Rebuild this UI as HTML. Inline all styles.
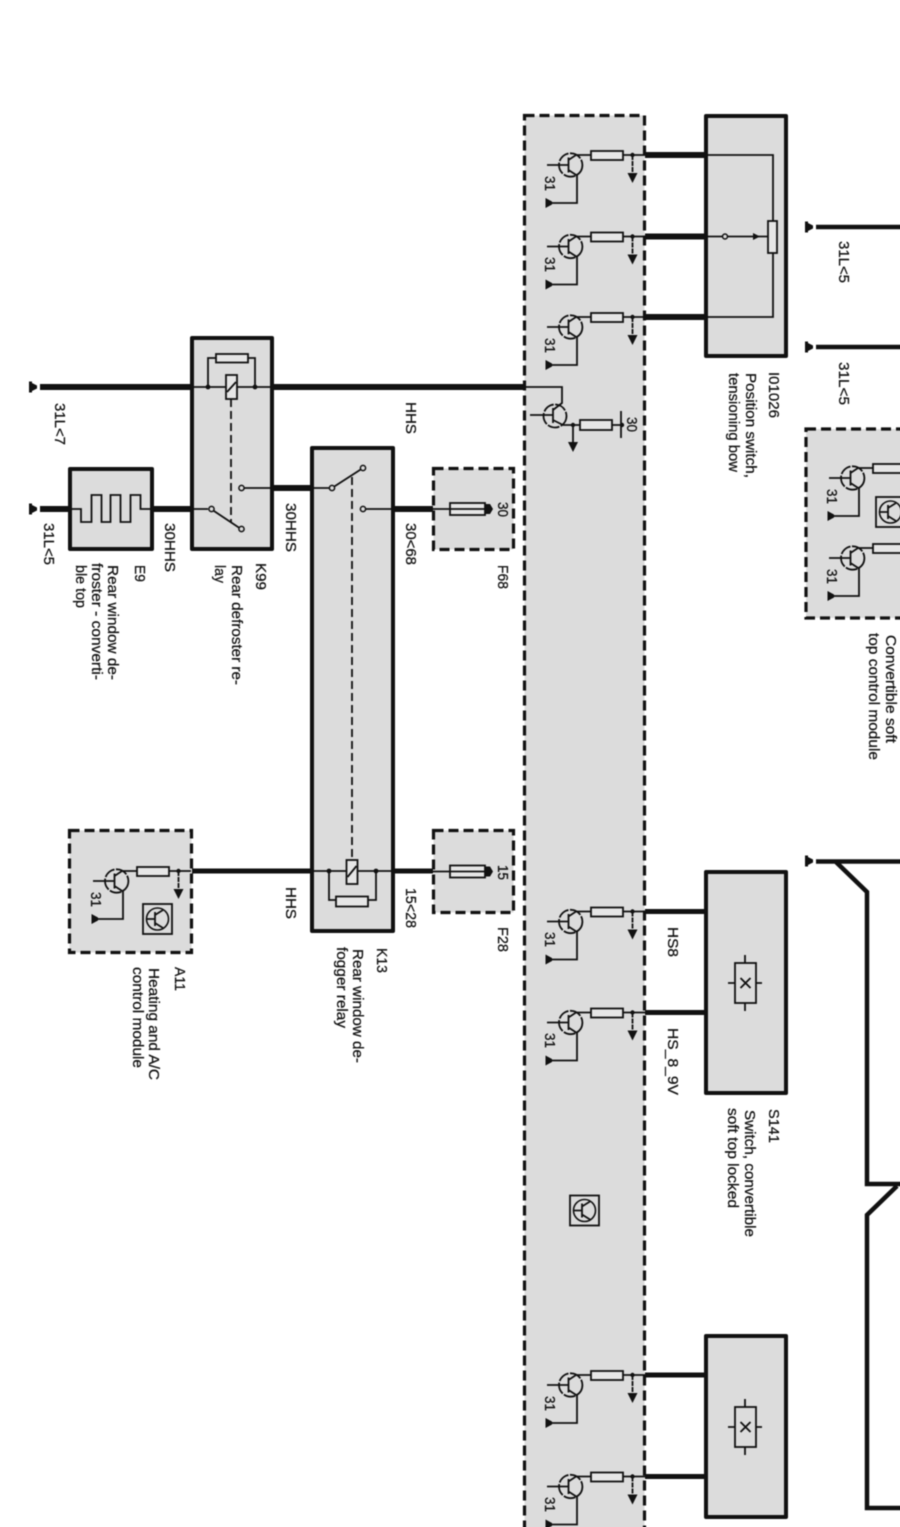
<!DOCTYPE html>
<html lang="en">
<head>
<meta charset="utf-8">
<title>Wiring diagram</title>
<style>
html,body{margin:0;padding:0;background:#fff;width:900px;height:1527px;overflow:hidden}
svg{display:block;position:absolute;left:0;top:0}
#all{filter:blur(.4px)}
text{font-family:"Liberation Sans",sans-serif;font-size:14.5px;fill:#111;stroke:#111;stroke-width:.25}
.box{fill:#dcdcdc;stroke:#111;stroke-width:4;stroke-linejoin:round}
.dash{fill:#dcdcdc;stroke:#111;stroke-width:3.2;stroke-dasharray:10 5}
.w{stroke:#111;fill:none}
.t{stroke:#111;fill:none;stroke-width:1.8}
.r{fill:#e6e6e6;stroke:#111;stroke-width:1.8}
</style>
</head>
<body>
<svg xmlns="http://www.w3.org/2000/svg" width="900" height="1527" viewBox="0 0 900 1527">
<defs>
  <g id="gnd"><rect x="0" y="-5.500" width="3" height="11" fill="#111"/><polygon points="0,-5.500 8,-1.500 8,1.500 0,5.500" fill="#111"/></g>
  <g id="tr">
    <circle cx="570.700" cy="165" r="11.700" fill="none" stroke="#111" stroke-width="1.800" stroke-dasharray="12 1.500"/>
    <path class="t" d="M547 165H568.500M568.500 157.500V172.500M568.500 160L576 155H591M623 155H645M568.500 170L577 175.500V203H551"/>
    <rect class="r" x="591" y="151" width="32" height="9"/>
    <circle cx="632.500" cy="155" r="2.200" fill="#111"/>
    <path class="t" d="M632.500 155V175" stroke-dasharray="5 1"/>
    <polygon points="627.500,173 637.500,173 632.500,183" fill="#111"/>
    <polygon points="545.500,198 545.500,208 552,204.500 552,201.500" fill="#111"/>
  </g>
  <g id="sym">
    <circle cx="14.500" cy="15" r="11" fill="none" stroke="#111" stroke-width="1.600"/>
    <rect x="0" y="0" width="29" height="30" fill="none" stroke="#111" stroke-width="1.800"/>
    <path class="t" d="M4 15H12M12 8V22M12 11L20 6M12 19L20 24"/>
  </g>
  <g id="xbox">
    <path class="t" d="M745 955V1011M728 983H762"/>
    <rect x="735" y="963" width="21" height="40" fill="#dcdcdc" stroke="#111" stroke-width="1.800"/>
    <path class="t" d="M740.500 978L750.500 988M750.500 978L740.500 988"/>
  </g>
  <g id="fuse">
    <path class="t" d="M433 0H450M485 0H491"/>
    <rect class="r" x="450" y="-6" width="35" height="12"/>
    <path class="t" d="M450 0H485"/>
    <polygon points="485,-5 490,-5 493,0 490,5 485,5" fill="#111"/>
  </g>
</defs>

<g id="all">
<rect x="-20" y="-20" width="960" height="1600" fill="#fff"/>

<!-- thick wires -->
<g class="w" stroke-width="6">
  <path d="M40 387H192M273 387H525"/>
  <path d="M40 509H70M152 509H192"/>
  <path d="M273 488H312M393 509H433" />
  <path d="M192 871H312M393 871H433" stroke-width="5"/>
  <path d="M645 155H705M645 236.500H705M645 317H705"/>
  <path d="M645 911.500H705M645 1012.500H705M645 1375H705M645 1476.500H705" stroke-width="5"/>
  <path d="M816 227H920M816 347H920" stroke-width="4.500"/>
  <path d="M816 861.500H920M836 862L867 892V1184H920M897 1186L867 1215V1508H920" stroke-width="4.500"/>
</g>
<use href="#gnd" x="29" y="387"/>
<use href="#gnd" x="29" y="509"/>
<use href="#gnd" x="805" y="227"/>
<use href="#gnd" x="805" y="347"/>
<use href="#gnd" x="805" y="861"/>

<!-- big module -->
<rect class="dash" x="524.500" y="115.500" width="120" height="1450"/>
<use href="#tr"/>
<use href="#tr" y="81.500"/>
<use href="#tr" y="162"/>
<use href="#tr" y="756.500"/>
<use href="#tr" y="857.500"/>
<use href="#tr" y="1220"/>
<use href="#tr" y="1321.500"/>
<g>
  <text transform="translate(545,176) rotate(90)" textLength="15" lengthAdjust="spacingAndGlyphs">31</text>
  <text transform="translate(545,257) rotate(90)" textLength="15" lengthAdjust="spacingAndGlyphs">31</text>
  <text transform="translate(545,338) rotate(90)" textLength="15" lengthAdjust="spacingAndGlyphs">31</text>
  <text transform="translate(545,932) rotate(90)" textLength="15" lengthAdjust="spacingAndGlyphs">31</text>
  <text transform="translate(545,1033) rotate(90)" textLength="15" lengthAdjust="spacingAndGlyphs">31</text>
  <text transform="translate(545,1396) rotate(90)" textLength="15" lengthAdjust="spacingAndGlyphs">31</text>
  <text transform="translate(545,1497) rotate(90)" textLength="15" lengthAdjust="spacingAndGlyphs">31</text>
</g>
<use href="#sym" x="570" y="1195.500"/>

<!-- flipped transistor in module -->
<circle cx="555" cy="416" r="11.500" fill="none" stroke="#111" stroke-width="1.800" stroke-dasharray="12 1.500"/>
<path class="t" d="M524 387H562V403L553 410M530 415H553M553 408V423M553 420L563 425H580M612 425H622"/>
<rect class="r" x="580" y="420" width="32" height="10"/>
<circle cx="573" cy="425" r="2.200" fill="#111"/>
<circle cx="622" cy="425" r="2.200" fill="#111"/>
<path class="t" d="M621 411V438M573 425V443"/>
<polygon points="568,442 578,442 573,452" fill="#111"/>
<text transform="translate(627,417) rotate(90)" textLength="15" lengthAdjust="spacingAndGlyphs">30</text>

<!-- I01026 -->
<rect class="box" x="706" y="116" width="80" height="240"/>
<path class="t" d="M705 155H773V222M773 253V317H705M705 236.500H768"/>
<rect class="r" x="768" y="221" width="9" height="32"/>
<circle cx="725" cy="236.500" r="2.500" fill="#dcdcdc" stroke="#111" stroke-width="1.500"/>
<polygon points="753,233 753,240 760,236.500" fill="#111"/>

<!-- S141 -->
<rect class="box" x="706" y="872" width="80" height="221"/>
<use href="#xbox"/>

<!-- bottom box -->
<rect class="box" x="706" y="1336" width="80" height="181"/>
<use href="#xbox" y="444"/>

<!-- Convertible module -->
<rect class="dash" x="806" y="429" width="120" height="189"/>
<use href="#tr" transform="translate(282,313)"/>
<use href="#tr" transform="translate(282,393)"/>
<use href="#sym" x="876" y="497"/>
<text transform="translate(827,489) rotate(90)" textLength="15" lengthAdjust="spacingAndGlyphs">31</text>
<text transform="translate(827,569) rotate(90)" textLength="15" lengthAdjust="spacingAndGlyphs">31</text>

<!-- E9 -->
<rect class="box" x="70" y="469" width="82" height="80"/>
<path class="t" d="M70 509H81V522H91.500V495H101.500V522H110.500V495H120.500V522H130.500V495H140.500V509H152"/>

<!-- K99 -->
<rect class="box" x="192" y="338" width="80" height="211"/>
<path class="t" d="M192 387H273M208 387V358H216M248 358H255V387"/>
<rect class="r" x="216" y="354" width="32" height="8.500"/>
<rect class="r" x="226" y="375" width="11" height="24"/>
<path class="t" d="M227 392L236 382"/>
<circle cx="208" cy="387" r="2.400" fill="#111"/>
<circle cx="255" cy="387" r="2.400" fill="#111"/>
<path class="t" d="M231 399V522" stroke-dasharray="8 4"/>
<path class="t" d="M192 509H208M211 509L241 529M241 488H273"/>
<circle cx="211.500" cy="509" r="2.600" fill="#dcdcdc" stroke="#111" stroke-width="1.500"/>
<circle cx="241.500" cy="529" r="2.600" fill="#dcdcdc" stroke="#111" stroke-width="1.500"/>
<circle cx="241.500" cy="488" r="2.600" fill="#dcdcdc" stroke="#111" stroke-width="1.500"/>

<!-- K13 -->
<rect class="box" x="312" y="448" width="81" height="483"/>
<path class="t" d="M312 488H332M332 488L363 468M363 509H393"/>
<circle cx="332" cy="488" r="2.600" fill="#dcdcdc" stroke="#111" stroke-width="1.500"/>
<circle cx="363" cy="468" r="2.600" fill="#dcdcdc" stroke="#111" stroke-width="1.500"/>
<circle cx="363" cy="509" r="2.600" fill="#dcdcdc" stroke="#111" stroke-width="1.500"/>
<path class="t" d="M352 477V860" stroke-dasharray="8 4"/>
<path class="t" d="M312 871H393M329 871V900H336M368 900H376V871"/>
<rect class="r" x="336" y="896.500" width="32" height="10"/>
<rect class="r" x="346.500" y="860" width="11" height="24"/>
<path class="t" d="M347.500 877L356.500 866"/>
<circle cx="329" cy="871" r="2.400" fill="#111"/>
<circle cx="376" cy="871" r="2.400" fill="#111"/>

<!-- F68, F28 -->
<rect class="dash" x="433.500" y="468.500" width="80" height="81"/>
<use href="#fuse" y="509"/>
<rect class="dash" x="433.500" y="830.500" width="80" height="82"/>
<use href="#fuse" y="871.500"/>

<!-- A11 -->
<rect class="dash" x="69.500" y="830.500" width="122" height="122"/>
<use href="#tr" transform="translate(-454,716)"/>
<use href="#sym" x="143" y="904"/>
<text transform="translate(91,892) rotate(90)" textLength="15" lengthAdjust="spacingAndGlyphs">31</text>

<!-- labels -->
<g>
<text transform="translate(55,403) rotate(90)" textLength="42" lengthAdjust="spacingAndGlyphs">31L&lt;7</text>
<text transform="translate(44,523) rotate(90)" textLength="42" lengthAdjust="spacingAndGlyphs">31L&lt;5</text>
<text transform="translate(165,523) rotate(90)" textLength="49" lengthAdjust="spacingAndGlyphs">30HHS</text>
<text transform="translate(286,503) rotate(90)" textLength="49" lengthAdjust="spacingAndGlyphs">30HHS</text>
<text transform="translate(406,402) rotate(90)" textLength="32" lengthAdjust="spacingAndGlyphs">HHS</text>
<text transform="translate(406,523) rotate(90)" textLength="42" lengthAdjust="spacingAndGlyphs">30&lt;68</text>
<text transform="translate(498,502) rotate(90)" textLength="15" lengthAdjust="spacingAndGlyphs">30</text>
<text transform="translate(498,565) rotate(90)" textLength="24" lengthAdjust="spacingAndGlyphs">F68</text>
<text transform="translate(256,563) rotate(90)" textLength="27" lengthAdjust="spacingAndGlyphs">K99</text>
<text transform="translate(232,565) rotate(90)" textLength="120" lengthAdjust="spacingAndGlyphs">Rear defroster re-</text>
<text transform="translate(215,565) rotate(90)" textLength="18" lengthAdjust="spacingAndGlyphs">lay</text>
<text transform="translate(135,565) rotate(90)" textLength="17" lengthAdjust="spacingAndGlyphs">E9</text>
<text transform="translate(108,565) rotate(90)" textLength="115" lengthAdjust="spacingAndGlyphs">Rear window de-</text>
<text transform="translate(92,563) rotate(90)" textLength="117" lengthAdjust="spacingAndGlyphs">froster - converti-</text>
<text transform="translate(76,565) rotate(90)" textLength="43" lengthAdjust="spacingAndGlyphs">ble top</text>

<text transform="translate(286,887) rotate(90)" textLength="32" lengthAdjust="spacingAndGlyphs">HHS</text>
<text transform="translate(406,888) rotate(90)" textLength="40" lengthAdjust="spacingAndGlyphs">15&lt;28</text>
<text transform="translate(498,927) rotate(90)" textLength="25" lengthAdjust="spacingAndGlyphs">F28</text>
<text transform="translate(498,865) rotate(90)" textLength="15" lengthAdjust="spacingAndGlyphs">15</text>
<text transform="translate(377,948) rotate(90)" textLength="25" lengthAdjust="spacingAndGlyphs">K13</text>
<text transform="translate(353,949) rotate(90)" textLength="114" lengthAdjust="spacingAndGlyphs">Rear window de-</text>
<text transform="translate(337,947) rotate(90)" textLength="81" lengthAdjust="spacingAndGlyphs">fogger relay</text>
<text transform="translate(175,967) rotate(90)" textLength="24" lengthAdjust="spacingAndGlyphs">A11</text>
<text transform="translate(149,968) rotate(90)" textLength="112" lengthAdjust="spacingAndGlyphs">Heating and A/C</text>
<text transform="translate(133,967) rotate(90)" textLength="101" lengthAdjust="spacingAndGlyphs">control module</text>

<text transform="translate(769,372) rotate(90)" textLength="46" lengthAdjust="spacingAndGlyphs">I01026</text>
<text transform="translate(746,373) rotate(90)" textLength="105" lengthAdjust="spacingAndGlyphs">Position switch,</text>
<text transform="translate(729,373) rotate(90)" textLength="99" lengthAdjust="spacingAndGlyphs">tensioning bow</text>
<text transform="translate(839,241) rotate(90)" textLength="42" lengthAdjust="spacingAndGlyphs">31L&lt;5</text>
<text transform="translate(839,362) rotate(90)" textLength="43" lengthAdjust="spacingAndGlyphs">31L&lt;5</text>
<text transform="translate(886,635) rotate(90)" textLength="108" lengthAdjust="spacingAndGlyphs">Convertible soft</text>
<text transform="translate(869,633) rotate(90)" textLength="127" lengthAdjust="spacingAndGlyphs">top control module</text>

<text transform="translate(668,927) rotate(90)" textLength="30" lengthAdjust="spacingAndGlyphs">HS8</text>
<text transform="translate(668,1028) rotate(90)" textLength="67" lengthAdjust="spacingAndGlyphs">HS_8_9V</text>
<text transform="translate(769,1109) rotate(90)" textLength="34" lengthAdjust="spacingAndGlyphs">S141</text>
<text transform="translate(745,1110) rotate(90)" textLength="127" lengthAdjust="spacingAndGlyphs">Switch, convertible</text>
<text transform="translate(728,1108) rotate(90)" textLength="100" lengthAdjust="spacingAndGlyphs">soft top locked</text>
</g>
</g>
</svg>
</body>
</html>
